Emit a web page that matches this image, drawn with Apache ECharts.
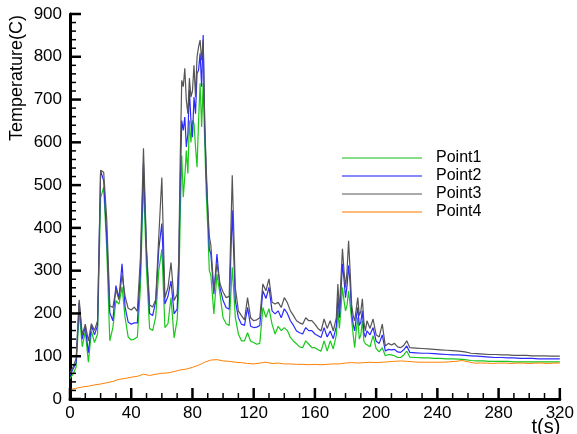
<!DOCTYPE html>
<html>
<head>
<meta charset="utf-8">
<script src="https://cdn.jsdelivr.net/npm/echarts@6/dist/echarts.min.js"></script>
<style>
  html, body { margin: 0; padding: 0; background: #fff; }
  #chart { width: 577px; height: 434px; }
</style>
</head>
<body>
<div id="chart"></div>
<script>
  // time (s) for Point1..Point3
  const times = [
    0,2,4,6,8,10,12,14,16,18,20,22,24,26,28,30,32,34,36,38,40,42,44,46,48,50,52,54,56,58,60,62,64,66,68,70,
    71,72,73,74,75,76,77,78,79,80,81,82,83,84,85,86,87,88,89,90,91,92,
    94,96,98,100,102,104,106,108,110,112,114,116,118,120,122,124,126,128,130,132,134,136,138,140,142,144,146,148,150,152,154,156,158,160,162,164,166,168,170,172,
    174,175,176,177,178,179,180,181,182,183,184,185,186,187,188,189,190,191,192,193,
    194,196,198,200,202,204,206,208,210,212,214,216,218,220,222,
    226,230,234,238,242,246,250,254,258,262,266,270,274,278,282,286,290,294,298,302,306,310,314,318,320
  ]
  const point1 = [
    48,58,75,205,122,158,86,158,132,152,470,495,350,136,167,230,222,262,190,145,138,140,145,260,510,300,165,160,192,300,350,167,176,237,143,185,
    250,420,569,472,520,581,527,651,600,651,644,589,542,651,738,636,738,600,480,400,300,290,
    199,292,245,190,176,172,308,191,152,136,136,155,135,132,128,130,214,191,211,175,152,170,160,167,160,144,135,129,122,120,136,128,120,120,115,112,136,112,136,117,
    150,206,165,210,261,230,206,220,253,220,185,150,120,160,191,140,150,183,135,129,
    125,122,148,118,110,120,101,104,103,101,97,97,103,112,98,
    97,96,96,95,95,94,94,93,92,90,89,89,88,88,88,88,87,87,87,87,87,87,87,87,87
  ]
  const point2 = [
    55,70,85,225,140,170,108,172,150,172,534,510,380,202,183,265,236,316,215,180,175,178,178,300,550,340,200,195,228,350,410,222,240,276,199,210,
    300,500,651,628,659,589,620,722,651,612,706,667,761,769,808,730,851,640,520,440,350,340,
    245,339,260,230,214,210,441,230,190,175,172,214,170,167,168,172,253,235,261,206,199,206,190,211,200,183,172,159,155,152,167,160,160,152,148,144,167,145,159,141,
    170,237,190,250,316,280,237,265,312,270,200,175,159,190,214,172,180,206,155,144,
    159,150,167,135,130,150,112,116,115,116,110,109,115,124,109,
    108,107,107,106,105,104,103,103,102,101,100,99,98,97,97,96,96,95,95,95,94,94,94,94,94
  ]
  const point3 = [
    60,75,95,232,150,175,136,176,160,183,535,530,420,218,214,255,232,290,240,212,208,215,205,330,586,350,220,215,232,380,518,237,260,319,230,245,
    320,560,745,730,773,698,667,750,706,720,780,706,800,823,839,792,839,651,540,448,380,360,
    253,316,269,250,237,240,523,260,206,195,185,237,190,183,185,190,269,253,281,226,222,226,214,237,225,206,195,183,178,175,190,183,183,175,165,159,187,165,183,159,
    190,269,205,280,351,300,261,300,370,300,220,195,183,210,237,195,205,234,180,159,
    183,165,187,150,145,175,124,130,126,130,122,120,125,136,120,
    119,118,117,116,115,114,113,112,110,107,106,105,104,104,103,103,102,102,102,101,101,101,100,100,100
  ]
  // Point4 is sampled on its own time grid
  const times4 = [
    0,4,8,12,16,20,24,28,32,36,40,44,48,52,56,60,64,68,72,76,80,84,88,92,96,100,104,108,112,116,120,
    124,128,132,136,140,144,148,152,156,160,164,168,172,176,180,184,188,192,196,200,204,208,212,216,220,
    224,228,232,236,240,244,248,252,256,260,264,268,272,276,280,284,288,292,296,300,304,308,312,316,320
  ]
  const point4 = [
    22,25,28,30,33,35,38,41,46,48,51,53,58,55,58,60,61,64,68,70,74,79,86,91,92,89,88,86,85,83,82,
    84,86,83,84,82,82,81,81,80,81,80,81,82,82,84,85,84,85,86,85,86,87,88,89,88,
    87,86,86,86,86,86,87,88,90,87,84,84,84,83,84,84,83,84,84,83,84,84,83,84,84
  ]
  // [min, max, major step, minor step]
  const xTicks = [0, 320, 40, 10]
  const yTicks = [0, 900, 100, 20]

  const names = ['Point1', 'Point2', 'Point3', 'Point4']
  const colors = ['#19c819', '#2b2bff', '#555555', '#ff8000']
  const legendColors = ['#88dd88', '#8888ff', '#aaaaaa', '#ffbb77']
  const font = 'Liberation Sans, Arial, sans-serif'

  const pair = (ts, vs) => ts.map((t, i) => [t, vs[i]])
  const seriesData = [
    pair(times, point1), pair(times, point2), pair(times, point3), pair(times4, point4)
  ]

  // inside ticks: [axis (0 = x, 1 = y), value, major?]
  const tickData = []
  for (let v = xTicks[0]; v <= xTicks[1]; v += xTicks[3]) tickData.push([0, v, v % xTicks[2] === 0 ? 1 : 0])
  for (let v = yTicks[0]; v <= yTicks[1]; v += yTicks[3]) tickData.push([1, v, v % yTicks[2] === 0 ? 1 : 0])

  const chart = echarts.init(document.getElementById('chart'))
  chart.setOption({
    animation: false,
    grid: { left: 70, right: 14, top: 14, bottom: 35 },
    legend: {
      left: 342,
      top: 150,
      padding: 0,
      orient: 'vertical',
      selectedMode: false,
      icon: 'rect',
      itemWidth: 80,
      itemHeight: 2,
      itemGap: 2,
      textStyle: { fontFamily: font, fontSize: 16, color: '#000', lineHeight: 16, padding: [0, 0, 0, 9] },
      data: names.map((n, i) => ({ name: n, itemStyle: { color: legendColors[i] } }))
    },
    xAxis: {
      type: 'value',
      min: xTicks[0],
      max: xTicks[1],
      interval: xTicks[2],
      splitLine: { show: false },
      axisLine: { show: true, lineStyle: { color: '#000', width: 3 } },
      axisTick: { show: false },
      axisLabel: { color: '#000', fontFamily: font, fontSize: 17, margin: 6 }
    },
    yAxis: {
      type: 'value',
      min: yTicks[0],
      max: yTicks[1],
      interval: yTicks[2],
      splitLine: { show: false },
      axisLine: { show: true, lineStyle: { color: '#000', width: 3 } },
      axisTick: { show: false },
      axisLabel: { color: '#000', fontFamily: font, fontSize: 17, margin: 8 }
    },
    graphic: [
      {
        type: 'text',
        x: 17,
        y: 15,
        rotation: Math.PI / 2,
        style: { text: 'Temperature(C)', fontFamily: font, fontSize: 18, fill: '#000', align: 'right', verticalAlign: 'middle' }
      },
      {
        type: 'text',
        x: 546,
        y: 427,
        style: { text: 't(s)', fontFamily: font, fontSize: 20, fill: '#000', align: 'center', verticalAlign: 'middle' }
      }
    ],
    series: names.map((n, i) => ({
      name: n,
      type: 'line',
      data: seriesData[i],
      showSymbol: false,
      symbol: 'none',
      lineStyle: { color: colors[i], width: i === 3 ? 1 : 1.2 },
      itemStyle: { color: colors[i] }
    })).concat([{
      name: 'ticks',
      type: 'custom',
      silent: true,
      z: 10,
      clip: false,
      data: tickData,
      renderItem: function (params, api) {
        const axis = api.value(0)
        const v = api.value(1)
        const major = api.value(2) === 1
        const len = major ? 11 : 6
        let x1, y1, x2, y2
        if (axis === 0) {
          const p = api.coord([v, yTicks[0]])
          x1 = p[0]; y1 = p[1]; x2 = p[0]; y2 = p[1] - len
        } else {
          const p = api.coord([xTicks[0], v])
          x1 = p[0]; y1 = p[1]; x2 = p[0] + len; y2 = p[1]
        }
        return {
          type: 'line',
          shape: { x1: x1, y1: y1, x2: x2, y2: y2 },
          style: { stroke: '#000', lineWidth: major ? 2.5 : 1.5 }
        }
      }
    }])
  })
</script>
</body>
</html>
